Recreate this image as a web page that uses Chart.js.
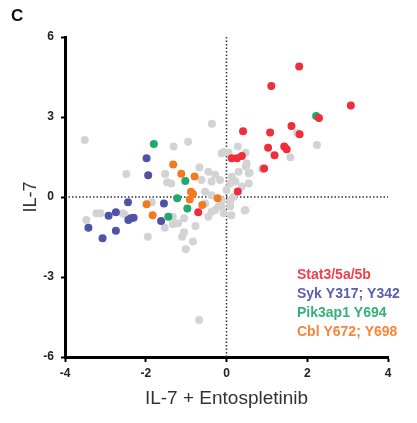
<!DOCTYPE html>
<html>
<head>
<meta charset="utf-8">
<script src="https://cdn.jsdelivr.net/npm/chart.js@4"></script>
<style>
  html, body { margin: 0; padding: 0; background: #fff; }
  #wrap { position: relative; width: 417px; height: 423px; }
  #panel { position: absolute; left: 11px; top: 6px; font: bold 17px 'Liberation Sans', Arial, sans-serif; color: #111; }
</style>
</head>
<body>
<div id="wrap">
  <canvas id="chart" width="417" height="423"></canvas>
  <div id="panel">C</div>
</div>
<script>
// --- Data (x: IL-7 + Entospletinib, y: IL-7) ---
const xTicks = [-4, -2, 0, 2, 4];
const yTicks = [-6, -3, 0, 3, 6];

const legendLabels = ['Stat3/5a/5b', 'Syk Y317; Y342', 'Pik3ap1 Y694', 'Cbl Y672; Y698'];

const otherSites = [
    [-3.51, 2.14], [-1.31, 1.89], [-0.95, 2.07], [-0.36, 2.75], [0.28, 1.89], [-2.48, 0.86],
    [-1.52, 0.86], [-1.47, 0.55], [-0.67, 1.11], [-0.07, 1.69], [0.05, 1.67], [0.47, 1.66],
    [1.75, 2.4], [2.24, 1.95], [1.58, 1.49], [0.88, 1.05], [0.48, 1.14], [0.57, 0.91],
    [-3.22, -0.61], [-3.12, -0.61], [-3.47, -0.86], [-2.53, -0.65], [-1.95, -1.49], [-1.53, -1.15],
    [-1.33, -0.74], [-1.33, -1.01], [-1.05, -0.8], [-1.05, -1.32], [-1.1, -1.49], [-1.01, -1.96],
    [-0.83, -1.67], [-0.77, -1.09], [-0.68, -4.61], [-0.45, -0.74], [-0.28, -0.49], [-0.12, -0.36],
    [0.12, -0.68], [0.45, -0.51], [-0.45, 0.95], [-0.28, 0.83], [-0.62, 0.64], [-0.37, 0.58],
    [-0.16, 0.64], [0.13, 0.76], [0.3, 0.95], [0.55, 0.89], [0.09, 0.51], [0.22, 0.58],
    [0.38, 0.39], [0.55, 0.51], [0, 0.26], [-0.53, 0.2], [-0.37, 0.07], [-0.12, -0.11],
    [-0.2, -0.36], [-0.53, -0.24], [-0.37, -0.55], [0.09, -0.18], [0.18, 0.01], [-0.07, -0.61],
    [0.47, -0.49], [0.09, -0.36], [-1.37, 0.51], [-0.12, 1.64], [0.5, 1.27], [-1.2, -0.98],
    [-1.85, -0.2], [-2.57, -0.61]
];
const stat = [
    [1.8, 4.89], [1.11, 4.16], [3.08, 3.43], [2.29, 2.96], [0.41, 2.47], [1.08, 2.42],
    [1.61, 2.66], [1.81, 2.35], [1.03, 1.85], [1.43, 1.89], [1.49, 1.79], [1.19, 1.57],
    [0.13, 1.45], [0.26, 1.45], [0.38, 1.54], [0.93, 1.07], [0.28, 0.21], [-0.7, -0.57]
];
const syk = [
    [-1.98, 1.45], [-1.94, 0.82], [-2.44, -0.2], [-1.55, -0.24], [-2.92, -0.7], [-2.74, -0.57],
    [-3.42, -1.15], [-3.07, -1.55], [-2.74, -1.27], [-2.43, -0.86], [-2.37, -0.8], [-2.3, -0.78],
    [-1.62, -0.9]
];
const pik3ap1 = [
    [-1.8, 1.99], [-1.02, 0.6], [-1.22, -0.05], [-0.97, -0.43], [-1.44, -0.74], [2.22, 3.04]
];
const cbl = [
    [-1.32, 1.22], [-1.12, 0.87], [-0.79, 0.77], [-0.88, 0.2], [-0.83, 0.11], [-0.91, -0.09],
    [-0.22, -0.05], [-1.98, -0.27], [-0.6, -0.3], [-1.83, -0.68]
];

const toPts = arr => arr.map(p => ({ x: p[0], y: p[1] }));
const FONT = "'Liberation Sans', Arial, sans-serif";
const pointColors = ['#ee2e3a', '#4f53a8', '#22a86a', '#f47a22'];
const legendColors = ['#f0414c', '#5a5fb0', '#34b078', '#f7863a'];

// dotted zero lines + legend text
const extras = {
    id: 'extras',
    beforeDatasetsDraw(chart) {
        const { ctx, chartArea: a, scales: { x, y } } = chart;
        const x0 = x.getPixelForValue(0), y0 = y.getPixelForValue(0);
        ctx.save();
        ctx.strokeStyle = '#333';
        ctx.lineWidth = 1.5;
        ctx.setLineDash([1.5, 2]);
        ctx.beginPath();
        ctx.moveTo(x0, a.top); ctx.lineTo(x0, a.bottom);
        ctx.moveTo(a.left, y0); ctx.lineTo(a.right, y0);
        ctx.stroke();
        ctx.restore();
    },
    afterDraw(chart) {
        const { ctx } = chart;
        ctx.save();
        ctx.font = 'bold 14px ' + FONT;
        ctx.textBaseline = 'middle';
        legendLabels.forEach((t, i) => {
            ctx.fillStyle = legendColors[i];
            ctx.fillText(t, 297, 275 + i * 19.2);
        });
        ctx.restore();
    }
};

const ds = (label, arr, color, order) => ({
    label, data: toPts(arr), backgroundColor: color, borderWidth: 0,
    pointRadius: 4, pointHoverRadius: 4, order
});

new Chart(document.getElementById('chart'), {
    type: 'scatter',
    data: {
        datasets: [
            ds('other', otherSites, '#d3d3d3', 5),
            ds(legendLabels[3], cbl, pointColors[3], 4),
            ds(legendLabels[2], pik3ap1, pointColors[2], 3),
            ds(legendLabels[1], syk, pointColors[1], 2),
            ds(legendLabels[0], stat, pointColors[0], 1)
        ]
    },
    options: {
        responsive: false,
        animation: false,
        layout: { padding: { top: 37, right: 29, left: 0, bottom: 0 } },
        plugins: { legend: { display: false }, tooltip: { enabled: false } },
        scales: {
            x: {
                type: 'linear', min: -4, max: 4,
                afterBuildTicks: s => { s.ticks = xTicks.map(v => ({ value: v })); },
                afterFit: s => { s.height = 66; },
                grid: { drawOnChartArea: false, drawTicks: true, tickLength: 5, tickColor: '#000', tickWidth: 2 },
                border: { display: true, color: '#000', width: 3 },
                ticks: { color: '#222', padding: 4, font: { family: FONT, size: 12, weight: 'bold' } },
                title: { display: true, text: 'IL-7 + Entospletinib', color: '#333', padding: { top: 0, bottom: 13 },
                         font: { family: FONT, size: 19 } }
            },
            y: {
                type: 'linear', min: -6, max: 6,
                afterBuildTicks: s => { s.ticks = yTicks.map(v => ({ value: v })); },
                afterFit: s => { s.width = 65; },
                grid: { drawOnChartArea: false, drawTicks: true, tickLength: 4, tickColor: '#000', tickWidth: 2 },
                border: { display: true, color: '#000', width: 3 },
                ticks: { color: '#222', padding: 7, font: { family: FONT, size: 12, weight: 'bold' } },
                title: { display: true, text: 'IL-7', color: '#333', padding: { top: 20, bottom: 0 },
                         font: { family: FONT, size: 18 } }
            }
        }
    },
    plugins: [extras]
});
</script>
</body>
</html>
